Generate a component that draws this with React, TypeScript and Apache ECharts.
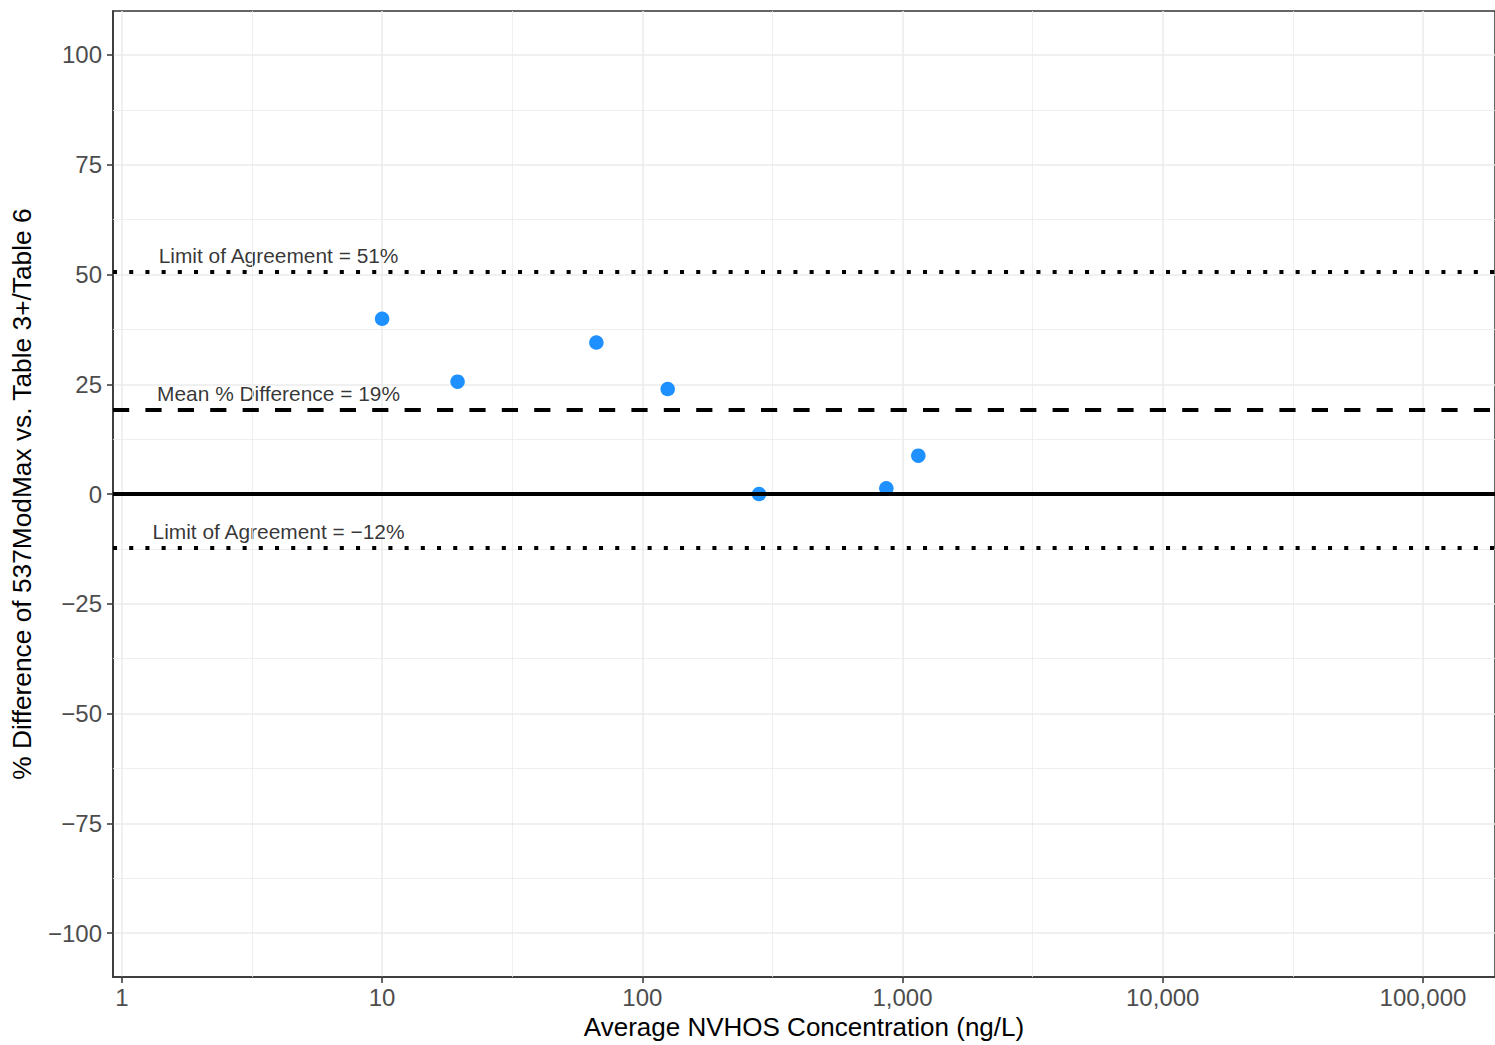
import React, { useEffect, useRef } from 'react';
import * as echarts from 'echarts';

// Data
const concentration = [10.0, 19.5, 66.6, 125.2, 280.9, 866.5, 1150];
const pctDifference = [39.9, 25.6, 34.5, 23.9, 0.0, 1.3, 8.75];
const meanDiff = 19.2;
const upperLoA = 50.6;
const lowerLoA = -12.3;
const xTicks = [1, 10, 100, 1000, 10000, 100000];
const xMinorBreaks = [3.162, 31.62, 316.2, 3162, 31623];
const yTicks = [-100, -75, -50, -25, 0, 25, 50, 75, 100];
const yMinorBreaks = [-87.5, -62.5, -37.5, -12.5, 12.5, 37.5, 62.5, 87.5];
const annotationTexts = ['Limit of Agreement = 51%', 'Mean % Difference = 19%', 'Limit of Agreement = \u221212%'];
const annotationX = [4, 4, 4];
const annotationY = [54.4, 23.0, -8.5];

const FONT = '"Liberation Sans", Arial, Helvetica, sans-serif';

export default function App() {
  const ref = useRef<HTMLDivElement>(null);
  useEffect(() => {
    if (!ref.current) return;
    const chart = echarts.init(ref.current, null, { renderer: 'svg' });
    const option: any = {
      animation: false,
      backgroundColor: '#ffffff',
      grid: {
        left: 113, right: 0, top: 11, bottom: 60,
        show: true, borderColor: '#333333', borderWidth: 1.5, backgroundColor: '#ffffff',
      },
      xAxis: {
        type: 'log', logBase: 10, min: 0.9244, max: 189200,
        name: 'Average NVHOS Concentration (ng/L)', nameLocation: 'middle', nameGap: 32,
        nameTextStyle: { fontFamily: FONT, fontSize: 26, color: '#000000' },
        axisLine: { show: true, onZero: false, lineStyle: { color: '#333333', width: 1.5 } },
        axisTick: { show: true, length: 6, customValues: xTicks, lineStyle: { color: '#333333', width: 1.5 } },
        axisLabel: {
          customValues: xTicks, margin: 8, fontFamily: FONT, fontSize: 24, color: '#4d4d4d',
          formatter: (v: number) => Math.round(Number(v)).toLocaleString('en-US'),
        },
        splitLine: { show: true, lineStyle: { color: '#ebebeb', width: 1.5 } },
      },
      yAxis: {
        type: 'value', min: -110, max: 110,
        name: '% Difference of 537ModMax vs. Table 3+/Table 6', nameLocation: 'middle', nameGap: 78, nameRotate: 90,
        nameTextStyle: { fontFamily: FONT, fontSize: 26.3, color: '#000000' },
        axisLine: { show: true, onZero: false, lineStyle: { color: '#333333', width: 1.5 } },
        axisTick: { show: true, length: 6, customValues: yTicks, lineStyle: { color: '#333333', width: 1.5 } },
        axisLabel: {
          customValues: yTicks, margin: 11, fontFamily: FONT, fontSize: 24, color: '#4d4d4d',
          formatter: (v: number) => String(v).replace('-', '\u2212'),
        },
        splitLine: { show: true, lineStyle: { color: '#ebebeb', width: 1.5 } },
      },
      series: [
        {
          name: 'minor', type: 'scatter', data: [], z: 1, silent: true,
          markLine: {
            silent: true, symbol: 'none', label: { show: false },
            lineStyle: { color: '#ebebeb', width: 0.8, type: 'solid' },
            emphasis: { disabled: true },
            data: [
              ...xMinorBreaks.map((v) => ({ xAxis: v })),
              ...yMinorBreaks.map((v) => ({ yAxis: v })),
            ],
          },
        },
        {
          name: 'reference', type: 'scatter', data: [], z: 2, silent: true,
          markLine: {
            silent: true, symbol: 'none', label: { show: false },
            emphasis: { disabled: true },
            data: [
              { yAxis: 0, lineStyle: { color: '#000000', width: 4, type: 'solid' } },
              { yAxis: meanDiff, lineStyle: { color: '#000000', width: 4, type: [16.2, 16.2] } },
              { yAxis: upperLoA, lineStyle: { color: '#000000', width: 4, type: [4.05, 12.15] } },
              { yAxis: lowerLoA, lineStyle: { color: '#000000', width: 4, type: [4.05, 12.15] } },
            ],
          },
        },
        {
          name: 'points', type: 'scatter', z: 3, symbol: 'circle', symbolSize: 14.5,
          itemStyle: { color: '#1E90FF', opacity: 1 },
          data: concentration.map((c, i) => [c, pctDifference[i]]),
        },
        {
          name: 'annotations', type: 'scatter', z: 4, symbolSize: 0, silent: true,
          data: annotationTexts.map((t, i) => ({ name: t, value: [annotationX[i], annotationY[i]] })),
          label: {
            show: true, position: 'inside', formatter: '{b}',
            fontFamily: FONT, fontSize: 20.9, color: '#000000',
          },
        },
      ],
    };
    chart.setOption(option);
    return () => chart.dispose();
  }, []);
  return (
    <div
      ref={ref}
      style={{ position: 'absolute', left: 0, top: 0, width: 1495, height: 1045, background: '#ffffff' }}
    />
  );
}
